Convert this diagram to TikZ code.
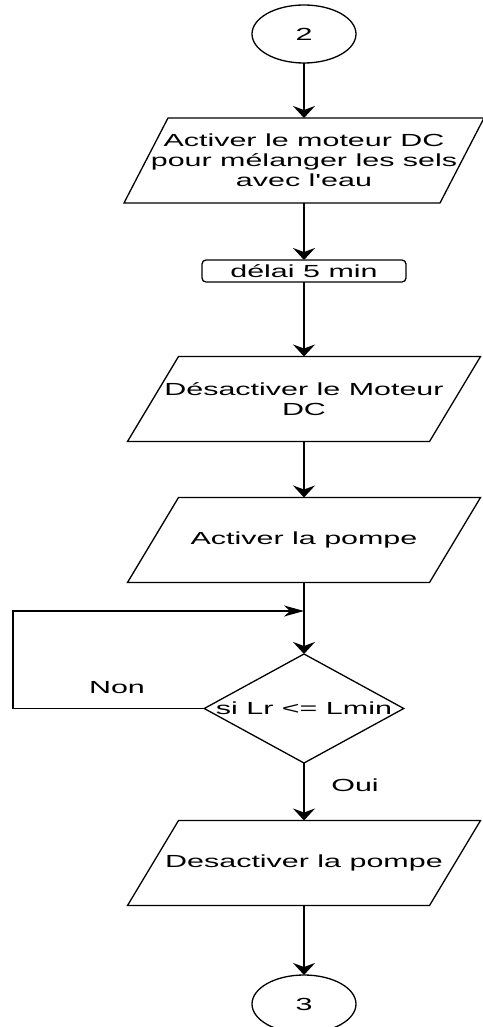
\documentclass[tikz,border=0pt]{standalone}
\usepackage{fontspec}
\newfontfamily\chartfont[FakeStretch=1.74]{Liberation Sans}
\usetikzlibrary{arrows.meta,shapes.geometric,positioning}

\begin{document}
\begin{tikzpicture}[x=1pt, y=-1pt,
    every node/.style={font=\chartfont\fontsize{17.5}{20}\selectfont, outer sep=0pt},
    line/.style={line width=1.4pt},
    arr/.style={line, -{Stealth[length=12pt, width=22pt, inset=4pt]}},
    harr/.style={line, -{Stealth[length=20pt, width=11pt, inset=6pt]}},
    term/.style={ellipse, draw, line width=1.3pt, minimum width=104pt, minimum height=58pt, inner sep=0pt},
    io/.style={minimum width=302pt, minimum height=85pt, inner sep=0pt, align=center},
    delay/.style={draw, line width=1.3pt, rounded corners=4pt, minimum width=204pt, minimum height=22pt, inner sep=0pt},
    test/.style={diamond, draw, line width=1.3pt, aspect=1.83, inner sep=0pt}]
    \useasboundingbox (0,0) rectangle (482,1027);
    % debut
    \node[term] (e2) at (304,34) {2};
    % melange
    \node[io, minimum width=316pt] (p1) at (304,160.5) {Activer le moteur DC\\pour mélanger les sels\\avec l'eau};
    \node[delay] (d1) at (304,271) {délai 5 min};
    \node[io] (p2) at (304,399) {Désactiver le Moteur\\DC};
    % pompe
    \node[io] (p3) at (304,540) {Activer la pompe};
    \node[test] (t1) at (304,708.5) {si Lr <= Lmin};
    \node[io] (p4) at (304,863) {Desactiver la pompe};
    \node[term] (e3) at (304,1004) {3};
    % parallelogrammes
    \foreach \n/\s in {p1/22, p2/25.5, p3/25.5, p4/25.5}{
        \draw[line, line width=1.3pt] ([xshift=\s pt]\n.north west) -- ([xshift=\s pt]\n.north east)
            -- ([xshift=-\s pt]\n.south east) -- ([xshift=-\s pt]\n.south west) -- cycle;
    }
    % liaisons
    \draw[arr] (e2) -- (p1);
    \draw[arr] (p1) -- (d1);
    \draw[arr] (d1) -- (p2);
    \draw[arr] (p2) -- (p3);
    \draw[arr] (p3) -- (t1);
    % boucle Non
    \coordinate (jn) at (304,611);
    \coordinate (lp) at (13,611);
    \draw[harr] (t1.west) -| (lp) -- (jn);
    \node (non) at (117,688) {Non};
    \draw[arr] (t1) -- (p4);
    \node (oui) at (355,785) {Oui};
    \draw[arr] (p4) -- (e3);
\end{tikzpicture}
\end{document}
